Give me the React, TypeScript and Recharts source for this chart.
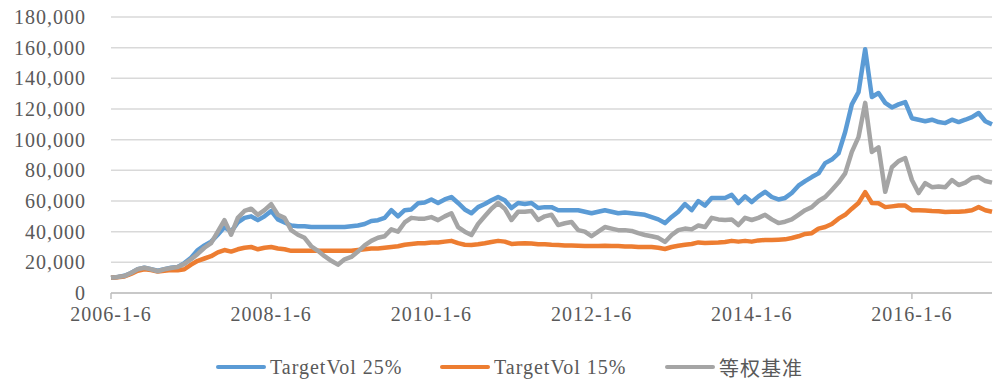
import React from 'react';
import { LineChart, Line, XAxis, YAxis, CartesianGrid } from 'recharts';

// monthly dates, 2006-1 .. 2017-1
const years = [2006, 2007, 2008, 2009, 2010, 2011, 2012, 2013, 2014, 2015, 2016, 2017];

// values in thousands
const targetVol25 = [
  10.0, 10.5, 11.2, 13.0, 15.5, 16.5, 15.5, 14.5, 15.5, 16.5, 17.0, 19.5,
  23.0, 28.0, 31.0, 33.5, 38.0, 43.0, 40.0, 46.0, 49.0, 50.0, 47.5, 50.0,
  53.5, 48.0, 46.0, 44.0, 43.5, 43.5, 43.0, 43.0, 43.0, 43.0, 43.0, 43.0,
  43.5, 44.0, 45.0, 47.0, 47.5, 49.0, 54.0, 50.0, 54.0, 54.5, 58.5, 59.0,
  61.0, 58.7, 61.0, 62.6, 58.7, 54.5, 52.0, 56.0, 58.0, 60.5, 62.6, 60.5,
  55.4, 58.7, 58.0, 58.7, 55.4, 56.0, 56.0, 54.0, 54.0, 54.0, 54.0, 53.0,
  52.0, 53.0, 54.0, 53.0, 52.0, 52.5, 52.0, 51.5, 51.0, 49.5, 48.0, 45.6,
  49.6, 53.0, 58.0, 54.0, 60.0, 57.0, 62.0, 62.0, 62.0, 64.0, 58.7, 63.0,
  59.3, 63.0, 66.0, 62.6, 61.0, 62.0, 65.2, 70.0, 73.0, 75.6, 78.0, 84.7,
  87.0, 91.0, 105.0, 123.0, 131.0, 159.0, 127.8, 130.4, 124.0, 121.0, 123.0, 124.5,
  114.0, 113.0, 112.0, 113.0, 111.5, 110.8, 113.0, 111.5, 113.0, 114.7, 117.4, 112.0,
  110.0,
];

const targetVol15 = [
  10.0, 10.3, 10.8, 12.5, 14.5, 15.5, 15.0, 14.0, 14.5, 15.0, 14.8, 15.5,
  18.5, 21.0, 22.5, 24.0, 26.5, 28.0, 27.0, 28.5, 29.5, 30.0, 28.5, 29.5,
  30.0, 29.0, 28.5, 27.5, 27.5, 27.5, 27.5, 27.5, 27.5, 27.5, 27.5, 27.5,
  27.5, 28.0, 28.5, 29.0, 29.0, 29.5, 30.0, 30.5, 31.5, 32.0, 32.5, 32.5,
  33.0, 33.0, 33.5, 34.0, 32.5, 31.5, 31.3, 31.8, 32.5, 33.3, 34.0, 33.5,
  32.0, 32.3, 32.5, 32.3, 31.8, 31.8, 31.5, 31.3, 31.0, 31.0, 30.8, 30.6,
  30.6, 30.6, 30.8, 30.6, 30.6, 30.4, 30.3, 30.0, 30.0, 30.0, 29.5, 28.7,
  30.0, 30.8, 31.5, 32.0, 33.0, 32.6, 32.8, 33.0, 33.3, 34.0, 33.5, 34.0,
  33.5, 34.3, 34.6, 34.6, 34.8, 35.0, 35.9, 37.0, 38.5, 39.0, 42.0, 43.0,
  45.0, 48.5, 51.0, 55.0, 58.7, 65.8, 58.7, 58.5, 56.0, 56.5, 57.0, 57.0,
  54.0, 54.0, 53.8, 53.5, 53.3, 52.8, 53.0, 53.0, 53.3, 54.0, 56.0, 54.0,
  53.0,
];

const equalWeight = [
  10.0, 10.5, 11.0, 13.0, 15.5, 16.5, 15.5, 14.2, 15.5, 16.3, 17.0, 19.0,
  22.0, 25.5, 29.5, 32.5, 40.0, 47.5, 38.0, 49.0, 53.5, 55.0, 51.0, 54.0,
  58.0, 51.0, 49.0, 41.0, 38.0, 36.0, 30.5, 27.5, 24.0, 21.0, 18.5, 22.0,
  23.5, 27.0, 31.0, 34.0, 36.0, 37.0, 41.5, 40.0, 46.0, 49.0, 48.5, 48.5,
  49.5, 47.5, 50.0, 52.0, 43.0, 40.0, 37.8, 45.0, 50.0, 55.0, 58.7, 55.0,
  47.6, 53.0, 53.0, 53.5, 47.6, 50.0, 51.0, 44.3, 45.5, 46.3, 41.0, 40.0,
  37.0, 40.0, 43.0, 42.0, 41.0, 41.0, 40.5, 39.0, 37.8, 37.0, 36.0, 33.3,
  37.8, 41.0, 42.0, 41.5, 44.0, 43.0, 49.0, 48.0, 47.6, 48.0, 44.3, 49.0,
  47.6, 49.0, 51.0, 48.0, 45.6, 46.5, 48.0, 51.0, 54.0, 56.0, 60.0, 62.6,
  67.2, 72.0, 78.0, 92.0, 101.7, 124.0, 92.0, 95.0, 66.0, 82.0, 86.0, 88.0,
  73.7, 65.2, 71.7, 69.0, 69.5, 69.0, 73.7, 70.4, 72.0, 75.0, 75.6, 73.0,
  72.0,
];

const yTicks = [0, 20000, 40000, 60000, 80000, 100000, 120000, 140000, 160000, 180000];

const dates: string[] = [];
years.forEach((y) => {
  for (let m = 1; m <= 12; m++) {
    if (y === 2017 && m > 1) break;
    dates.push(`${y}-${m}-6`);
  }
});

const data = dates.map((d, i) => ({
  date: d,
  tv25: targetVol25[i] * 1000,
  tv15: targetVol15[i] * 1000,
  ew: equalWeight[i] * 1000,
}));

const legendItems = [
  { label: 'TargetVol 25%', color: '#5B9BD5', left: 216 },
  { label: 'TargetVol 15%', color: '#ED7D31', left: 440 },
  { label: '等权基准', color: '#A5A5A5', left: 665 },
];

const textFont = '"Liberation Serif", "Noto Sans CJK SC", serif';

export default function App() {
  return (
    <div style={{ position: 'absolute', left: 0, top: 0, width: 999, height: 387, background: '#fff' }}>
      <LineChart
        width={999}
        height={387}
        data={data}
        margin={{ top: 17, right: 7, bottom: 0, left: 0 }}
      >
        <CartesianGrid vertical={false} stroke="#D9D9D9" strokeWidth={1.5} />
        <XAxis
          dataKey="date"
          interval={23}
          height={94}
          tickSize={6}
          tickMargin={8}
          axisLine={{ stroke: '#BFBFBF', strokeWidth: 1.5 }}
          tickLine={{ stroke: '#BFBFBF', strokeWidth: 1.5 }}
          tick={{ fill: '#595959', fontSize: 20, fontFamily: textFont, letterSpacing: 1 }}
        />
        <YAxis
          width={111}
          domain={[0, 180000]}
          ticks={yTicks}
          axisLine={false}
          tickLine={false}
          tickSize={0}
          tickMargin={25}
          tickFormatter={(v: number) => v.toLocaleString('en-US')}
          tick={{ fill: '#595959', fontSize: 20, fontFamily: textFont, letterSpacing: 1 }}
        />
        <Line type="linear" dataKey="tv25" stroke="#5B9BD5" strokeWidth={4.5} dot={false} strokeLinejoin="round" isAnimationActive={false} />
        <Line type="linear" dataKey="tv15" stroke="#ED7D31" strokeWidth={4.5} dot={false} strokeLinejoin="round" isAnimationActive={false} />
        <Line type="linear" dataKey="ew" stroke="#A5A5A5" strokeWidth={4.5} dot={false} strokeLinejoin="round" isAnimationActive={false} />
      </LineChart>
      {legendItems.map((it) => (
        <div
          key={it.label}
          style={{
            position: 'absolute',
            left: it.left,
            top: 353,
            height: 28,
            display: 'flex',
            alignItems: 'center',
            fontFamily: textFont,
            fontSize: 20,
            letterSpacing: 1,
            color: '#595959',
            whiteSpace: 'nowrap',
          }}
        >
          <span style={{ display: 'inline-block', width: 50, height: 4, borderRadius: 2, background: it.color, marginRight: 4 }} />
          {it.label}
        </div>
      ))}
    </div>
  );
}
